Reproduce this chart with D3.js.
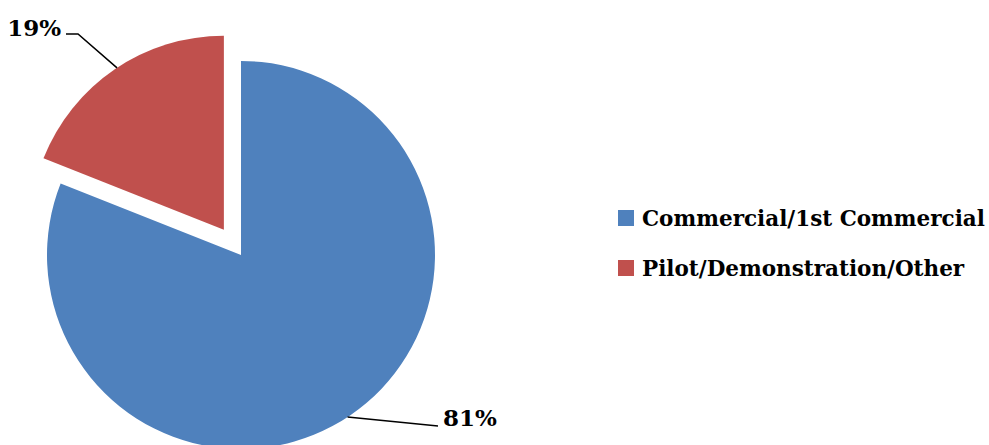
<!DOCTYPE html>
<html>
<head>
<meta charset="utf-8">
<script src="https://cdn.jsdelivr.net/npm/d3@7"></script>
<style>
  html, body { margin: 0; padding: 0; background: #fff; }
  svg { display: block; }
  text { font-family: "DejaVu Serif", "Liberation Serif", serif; font-weight: bold; fill: #000; }
</style>
</head>
<body>
<svg id="chart" width="989" height="445"></svg>
<script>
// Project stage shares
const categories = ["Commercial/1st Commercial", "Pilot/Demonstration/Other"];
const values = [81, 19];
const colors = ["#4F81BD", "#C0504D"];
const labels = ["81%", "19%"];

const svg = d3.select("#chart");
const cx = 241, cy = 255, radius = 194;
const explode = [0, 30.5];

const pie = d3.pie().sort(null).value(d => d)(values);
const arc = d3.arc().innerRadius(0).outerRadius(radius);

const g = svg.append("g").attr("transform", `translate(${cx},${cy})`);

g.selectAll("path.slice")
  .data(pie)
  .join("path")
  .attr("class", "slice")
  .attr("fill", (d, i) => colors[i])
  .attr("transform", (d, i) => {
    const mid = (d.startAngle + d.endAngle) / 2;
    return `translate(${Math.sin(mid) * explode[i]},${-Math.cos(mid) * explode[i]})`;
  })
  .attr("d", arc);

// Leader lines and percentage labels
const pointOnArc = (i, a) => {
  const d = pie[i];
  const mid = (d.startAngle + d.endAngle) / 2;
  const ox = Math.sin(mid) * explode[i], oy = -Math.cos(mid) * explode[i];
  return [ox + Math.sin(a) * radius, oy - Math.cos(a) * radius];
};

// 81% label (bottom right)
const p0 = pointOnArc(0, 2.56);
g.append("polyline")
  .attr("points", [p0, [197, 171]].map(p => p.join(",")).join(" "))
  .attr("fill", "none").attr("stroke", "#000").attr("stroke-width", 1.5);
g.append("text").attr("x", 202).attr("y", 171)
  .attr("font-size", 23).text(labels[0]);

// 19% label (top left)
const p1 = pointOnArc(1, 5.70);
g.append("polyline")
  .attr("points", [p1, [-163, -221], [-175, -221]].map(p => p.join(",")).join(" "))
  .attr("fill", "none").attr("stroke", "#000").attr("stroke-width", 1.5);
g.append("text").attr("x", -180).attr("y", -219)
  .attr("text-anchor", "end")
  .attr("font-size", 23).text(labels[1]);

// Legend
const legend = svg.append("g").attr("transform", "translate(618,210)");
const item = legend.selectAll("g")
  .data(categories)
  .join("g")
  .attr("transform", (d, i) => `translate(0,${i * 50})`);
item.append("rect").attr("width", 16).attr("height", 16)
  .attr("fill", (d, i) => colors[i]);
item.append("text").attr("x", 24).attr("y", 16)
  .attr("font-size", 21.5).text(d => d);
</script>
</body>
</html>
